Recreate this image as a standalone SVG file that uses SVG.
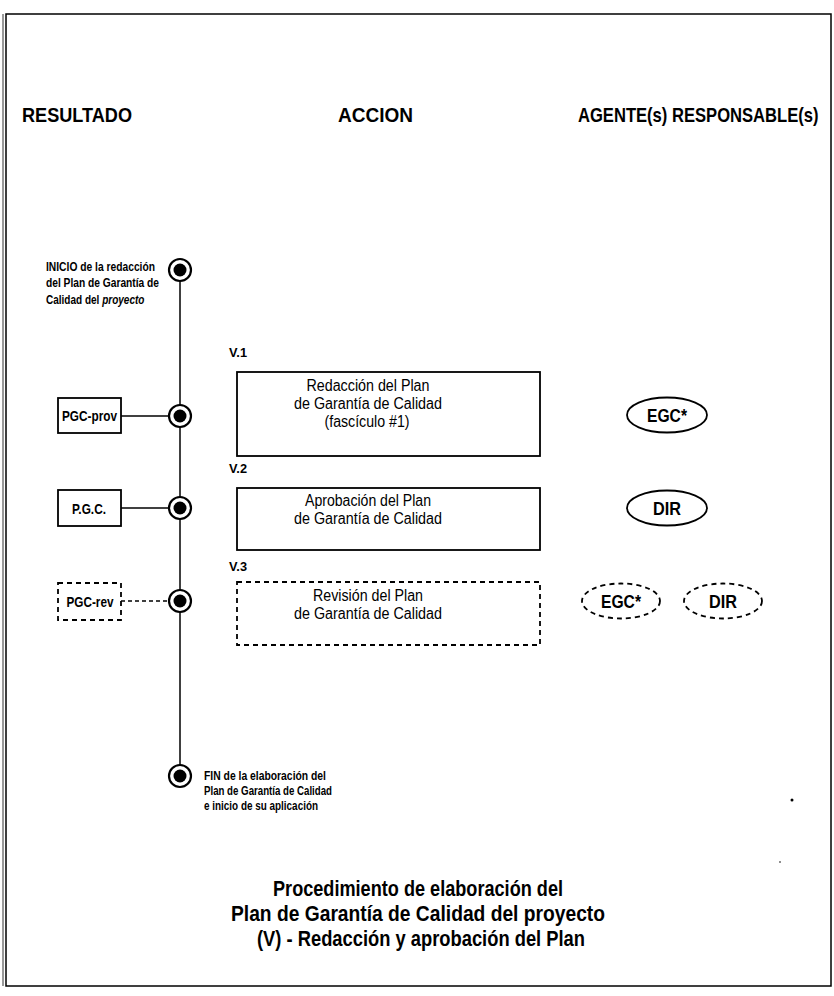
<svg xmlns="http://www.w3.org/2000/svg" width="834" height="996" viewBox="0 0 834 996">
<style>
text{font-family:"Liberation Sans",Arial,sans-serif;fill:#000}
.hd{font-size:20px;font-weight:bold}
.lbl{font-size:13.5px;font-weight:bold}
.ini{font-size:13px;font-weight:bold}
.fin{font-size:13px;font-weight:bold}
.act{font-size:16px;text-anchor:middle}
.ag{font-size:18px;font-weight:bold;text-anchor:middle}
.res{font-size:15px;font-weight:bold;text-anchor:middle}
.ttl{font-size:22px;font-weight:bold;text-anchor:middle}
.box{fill:#fff;stroke:#000;stroke-width:1.8}
.dash{fill:#fff;stroke:#000;stroke-width:1.8;stroke-dasharray:5 4}
.ln{stroke:#000;stroke-width:1.5;fill:none}
.dln{stroke:#000;stroke-width:1.5;fill:none;stroke-dasharray:4 3}
.oc{fill:#fff;stroke:#000;stroke-width:2.2}
</style>
<rect width="834" height="996" fill="#fff"/>
<rect x="6" y="14" width="825" height="972" fill="none" stroke="#000" stroke-width="1.5"/>
<line x1="3" y1="14" x2="3" y2="986" stroke="#000" stroke-width="0.8"/>

<g id="headers">
<text class="hd" x="22" y="122" textLength="110" lengthAdjust="spacingAndGlyphs">RESULTADO</text>
<text class="hd" x="338" y="122" textLength="75" lengthAdjust="spacingAndGlyphs">ACCION</text>
<text class="hd" transform="translate(578 122) scale(0.83 1)">AGENTE(s) RESPONSABLE(s)</text>
</g>

<g id="connectors">
<line class="ln" x1="180" y1="270" x2="180" y2="776"/>
<line class="ln" x1="121" y1="416" x2="169" y2="416"/>
<line class="ln" x1="121" y1="508" x2="169" y2="508"/>
<line class="dln" x1="121" y1="601" x2="169" y2="601"/>
</g>

<g id="inicio">
<circle class="oc" cx="180" cy="270" r="11"/><circle cx="180" cy="270" r="6.5"/>
<text class="ini" x="46" y="271" textLength="109" lengthAdjust="spacingAndGlyphs">INICIO de la redacción</text>
<text class="ini" x="46" y="287" textLength="113" lengthAdjust="spacingAndGlyphs">del Plan de Garantía de</text>
<text class="ini" transform="translate(46 304) scale(0.77 1)">Calidad del <tspan font-style="italic">proyecto</tspan></text>
</g>

<g id="pgc-prov">
<circle class="oc" cx="180" cy="416" r="11"/><circle cx="180" cy="416" r="6.5"/>
<rect class="box" x="58" y="398" width="63" height="35"/>
<text class="res" x="89.5" y="421" textLength="55" lengthAdjust="spacingAndGlyphs">PGC-prov</text>
</g>

<g id="pgc">
<circle class="oc" cx="180" cy="508" r="11"/><circle cx="180" cy="508" r="6.5"/>
<rect class="box" x="58" y="490" width="63" height="36"/>
<text class="res" x="89" y="514" textLength="34" lengthAdjust="spacingAndGlyphs">P.G.C.</text>
</g>

<g id="pgc-rev">
<circle class="oc" cx="180" cy="601" r="11"/><circle cx="180" cy="601" r="6.5"/>
<rect class="dash" x="58" y="583" width="63" height="37"/>
<text class="res" x="90" y="607" textLength="47" lengthAdjust="spacingAndGlyphs">PGC-rev</text>
</g>

<g id="fin">
<circle class="oc" cx="180" cy="776" r="11"/><circle cx="180" cy="776" r="6.5"/>
<text class="fin" x="204" y="780" textLength="122" lengthAdjust="spacingAndGlyphs">FIN de la elaboración del</text>
<text class="fin" x="204" y="795" textLength="128" lengthAdjust="spacingAndGlyphs">Plan de Garantía de Calidad</text>
<text class="fin" x="204" y="810" textLength="114" lengthAdjust="spacingAndGlyphs">e inicio de su aplicación</text>
</g>

<g id="v1">
<text class="lbl" x="229" y="357" textLength="18" lengthAdjust="spacingAndGlyphs">V.1</text>
<rect class="box" x="237" y="372" width="303" height="84"/>
<text class="act" x="368" y="391" textLength="123" lengthAdjust="spacingAndGlyphs">Redacción del Plan</text>
<text class="act" x="368" y="409" textLength="148" lengthAdjust="spacingAndGlyphs">de Garantía de Calidad</text>
<text class="act" x="367" y="427" textLength="85" lengthAdjust="spacingAndGlyphs">(fascículo #1)</text>
</g>

<g id="v2">
<text class="lbl" x="229" y="473" textLength="18" lengthAdjust="spacingAndGlyphs">V.2</text>
<rect class="box" x="237" y="488" width="303" height="62"/>
<text class="act" x="368" y="506" textLength="126" lengthAdjust="spacingAndGlyphs">Aprobación del Plan</text>
<text class="act" x="368" y="524" textLength="148" lengthAdjust="spacingAndGlyphs">de Garantía de Calidad</text>
</g>

<g id="v3">
<text class="lbl" x="229" y="571" textLength="18" lengthAdjust="spacingAndGlyphs">V.3</text>
<rect class="dash" x="237" y="582" width="303" height="63"/>
<text class="act" x="368" y="601" textLength="110" lengthAdjust="spacingAndGlyphs">Revisión del Plan</text>
<text class="act" x="368" y="619" textLength="148" lengthAdjust="spacingAndGlyphs">de Garantía de Calidad</text>
</g>

<g id="egc1">
<ellipse class="box" cx="667" cy="415" rx="40" ry="17.5"/>
<text class="ag" x="667" y="421.5" textLength="40" lengthAdjust="spacingAndGlyphs">EGC*</text>
</g>
<g id="dir1">
<ellipse class="box" cx="667" cy="508" rx="40" ry="17.5"/>
<text class="ag" x="667" y="514.5" textLength="28" lengthAdjust="spacingAndGlyphs">DIR</text>
</g>
<g id="egc2">
<ellipse class="dash" cx="621" cy="601" rx="39" ry="17.5"/>
<text class="ag" x="621" y="607.5" textLength="40" lengthAdjust="spacingAndGlyphs">EGC*</text>
</g>
<g id="dir2">
<ellipse class="dash" cx="723" cy="601" rx="39" ry="17.5"/>
<text class="ag" x="723" y="607.5" textLength="28" lengthAdjust="spacingAndGlyphs">DIR</text>
</g>

<circle cx="792" cy="800" r="1.5"/>
<circle cx="780" cy="862" r="0.8"/>

<g id="title">
<text class="ttl" x="418" y="896" textLength="290" lengthAdjust="spacingAndGlyphs">Procedimiento de elaboración del</text>
<text class="ttl" x="418" y="921" textLength="374" lengthAdjust="spacingAndGlyphs">Plan de Garantía de Calidad del proyecto</text>
<text class="ttl" x="421" y="946" textLength="328" lengthAdjust="spacingAndGlyphs">(V) - Redacción y aprobación del Plan</text>
</g>
</svg>
